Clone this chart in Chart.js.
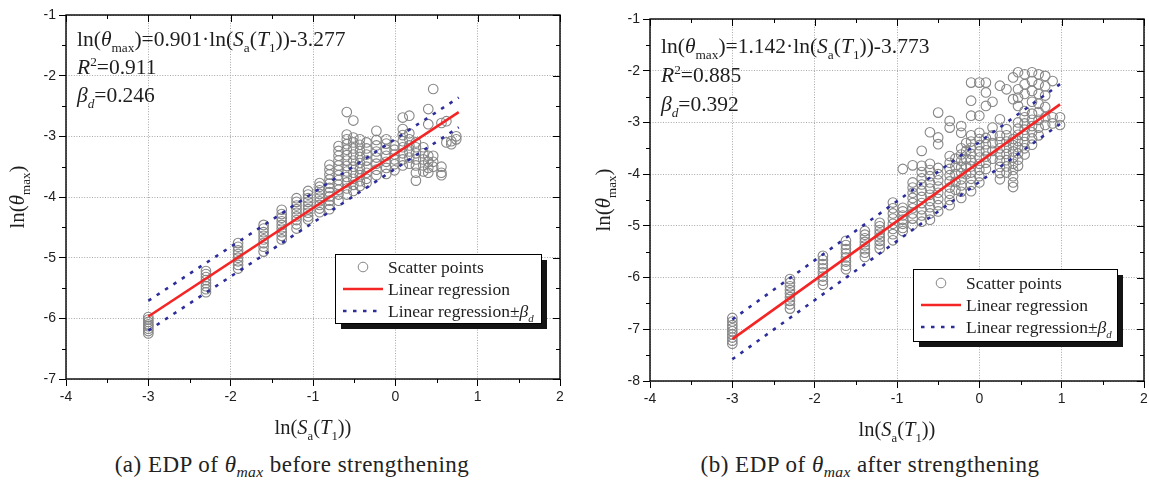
<!DOCTYPE html>
<html>
<head>
<meta charset="utf-8">
<script src="https://cdn.jsdelivr.net/npm/chart.js@4.4.1/dist/chart.umd.min.js"></script>
<style>
  body { margin: 0; background: #fff; width: 1149px; height: 488px; overflow: hidden; position: relative; }
  canvas { position: absolute; top: 0; }
  #chartA { left: 0; }
  #chartB { left: 580px; }
  .cap { position: absolute; top: 453px; font: 23px "Liberation Serif"; letter-spacing: 0.5px; color: #222; white-space: nowrap; transform: translateX(-50%); line-height: 24px; }
  .cap sub { font-size: 0.68em; vertical-align: baseline; position: relative; top: 0.3em; letter-spacing: 0.3px; }
</style>
</head>
<body>
<canvas id="chartA" width="580" height="445"></canvas>
<canvas id="chartB" width="571" height="445"></canvas>
<div class="cap" style="left:292px">(a) EDP of <i>θ<sub>max</sub></i> before strengthening</div>
<div class="cap" style="left:870px">(b) EDP of <i>θ<sub>max</sub></i> after strengthening</div>
<script>
// axis ranges
const xRange = [-4, 2]
const yRangeBefore = [-7, -1]
const yRangeAfter = [-8, -1]

// scatter points, grouped by column (x) -> list of y
const beforeColX = [-3, -2.3, -1.91, -1.6, -1.38, -1.2, -1.06, -0.92, -0.8, -0.69, -0.59, -0.51, -0.43,
  -0.35, -0.23, -0.11, -0.01, 0.09, 0.17, 0.25, 0.34, 0.40, 0.46, 0.56, 0.62, 0.68, 0.74]
const beforeColY = [
  [-5.98, -6.02, -6.06, -6.10, -6.13, -6.17, -6.21, -6.25],
  [-5.22, -5.27, -5.32, -5.37, -5.42, -5.47, -5.52, -5.57],
  [-4.76, -4.82, -4.88, -4.94, -5.00, -5.06, -5.12, -5.18],
  [-4.46, -4.52, -4.58, -4.64, -4.70, -4.76, -4.82, -4.90],
  [-4.21, -4.28, -4.34, -4.40, -4.46, -4.52, -4.58, -4.64, -4.70],
  [-4.02, -4.08, -4.14, -4.20, -4.26, -4.32, -4.38, -4.45, -4.52],
  [-3.90, -3.96, -4.02, -4.08, -4.14, -4.20, -4.26, -4.32, -4.37],
  [-3.77, -3.83, -3.89, -3.95, -4.01, -4.07, -4.13, -4.19, -4.25],
  [-3.47, -3.55, -3.63, -3.71, -3.78, -3.85, -3.92, -3.99, -4.06, -4.13, -4.20],
  [-3.16, -3.24, -3.32, -3.40, -3.48, -3.56, -3.64, -3.72, -3.80, -3.88, -3.96, -4.06],
  [-2.60, -2.97, -3.05, -3.13, -3.22, -3.31, -3.40, -3.49, -3.58, -3.67, -3.76, -3.86, -3.96],
  [-2.74, -3.02, -3.10, -3.20, -3.30, -3.40, -3.50, -3.60, -3.70, -3.80, -3.90],
  [-3.05, -3.14, -3.24, -3.34, -3.44, -3.54, -3.64, -3.74, -3.82],
  [-3.10, -3.20, -3.30, -3.40, -3.50, -3.60, -3.70, -3.77],
  [-2.91, -3.06, -3.15, -3.25, -3.35, -3.45, -3.55, -3.64],
  [-3.05, -3.12, -3.22, -3.32, -3.42, -3.52, -3.62],
  [-3.15, -3.22, -3.30, -3.38, -3.46, -3.56],
  [-2.69, -2.88, -2.98, -3.08, -3.18, -3.28, -3.38, -3.48],
  [-2.66, -2.95, -3.05, -3.15, -3.25, -3.35, -3.45],
  [-3.10, -3.18, -3.28, -3.38, -3.48, -3.60, -3.73],
  [-3.18, -3.28, -3.38, -3.48, -3.58],
  [-2.55, -2.80, -3.32, -3.42, -3.52, -3.60],
  [-2.22, -3.32, -3.42, -3.50],
  [-2.78, -3.50, -3.60, -3.64],
  [-2.75, -3.10],
  [-3.08, -3.13],
  [-3.00, -3.05]
]

const afterColX = [-3, -2.3, -1.9, -1.62, -1.39, -1.21, -1.05, -0.93, -0.81, -0.7, -0.6, -0.5, -0.36,
  -0.29, -0.22, -0.16, -0.1, 0, 0.08, 0.16, 0.25, 0.33, 0.41, 0.47, 0.55, 0.64, 0.72, 0.8, 0.89, 0.98]
const afterColY = [
  [-6.78, -6.85, -6.92, -6.98, -7.04, -7.10, -7.16, -7.22, -7.28],
  [-6.03, -6.10, -6.17, -6.24, -6.31, -6.38, -6.45, -6.52, -6.60],
  [-5.58, -5.66, -5.74, -5.82, -5.90, -5.98, -6.06, -6.14],
  [-5.29, -5.37, -5.45, -5.53, -5.61, -5.69, -5.77, -5.84],
  [-5.10, -5.17, -5.24, -5.31, -5.38, -5.45, -5.52, -5.60],
  [-4.94, -5.01, -5.08, -5.15, -5.22, -5.29, -5.36, -5.44],
  [-4.55, -4.66, -4.76, -4.86, -4.96, -5.06, -5.16, -5.28],
  [-3.90, -4.65, -4.72, -4.80, -4.88, -4.96, -5.04, -5.10],
  [-3.83, -4.16, -4.26, -4.36, -4.46, -4.56, -4.66, -4.76, -4.86, -4.98],
  [-3.55, -3.84, -3.96, -4.08, -4.20, -4.32, -4.44, -4.56, -4.68, -4.80, -4.92],
  [-3.19, -3.80, -3.92, -4.04, -4.16, -4.28, -4.40, -4.52, -4.64, -4.76, -4.88],
  [-2.81, -3.29, -3.42, -3.88, -4.00, -4.12, -4.24, -4.36, -4.48, -4.60, -4.72],
  [-2.97, -3.10, -3.65, -3.78, -3.90, -4.02, -4.14, -4.26, -4.38, -4.50, -4.60],
  [-3.70, -3.85, -4.00, -4.15, -4.30],
  [-3.07, -3.20, -3.50, -3.62, -3.74, -3.86, -3.98, -4.10, -4.22, -4.34, -4.46],
  [-3.40, -3.55, -3.70, -3.85, -4.00],
  [-2.23, -2.58, -2.87, -3.25, -3.37, -3.49, -3.61, -3.73, -3.85, -3.97, -4.09, -4.21, -4.33],
  [-2.23, -2.87, -3.20, -3.32, -3.44, -3.56, -3.68, -3.80, -3.92, -4.04, -4.16],
  [-2.23, -2.42, -2.68, -3.30, -3.42, -3.54, -3.66, -3.78, -3.90],
  [-2.60, -3.10, -3.25, -3.40, -3.55, -3.70],
  [-2.29, -2.94, -3.26, -3.38, -3.50, -3.62, -3.74, -3.86, -3.98, -4.10],
  [-2.36, -3.13, -3.25, -3.37, -3.49, -3.61, -3.73, -3.85, -3.97],
  [-2.13, -2.55, -3.32, -3.44, -3.56, -3.68, -3.80, -3.92, -4.04, -4.16, -4.25],
  [-2.03, -2.36, -2.52, -2.68, -3.00, -3.12, -3.24, -3.36, -3.48, -3.60, -3.72, -3.84],
  [-2.07, -2.26, -2.45, -2.78, -2.90, -3.02, -3.14, -3.26, -3.38, -3.50, -3.62],
  [-2.03, -2.20, -2.39, -2.60, -2.83, -2.95, -3.07, -3.19, -3.31, -3.43],
  [-2.07, -2.26, -2.45, -2.64, -2.80, -2.95, -3.10, -3.25],
  [-2.10, -2.30, -2.48, -2.70, -2.90, -3.05],
  [-2.20, -2.90, -3.02],
  [-2.90, -3.05]
]

// regression lines (end points)
const beforeLineX = [-3, 0.77]
const beforeFit = [-5.97, -2.60]
const beforeUpper = [-5.71, -2.36]
const beforeLower = [-6.20, -2.85]
const afterLineX = [-3, 0.98]
const afterFit = [-7.19, -2.65]
const afterUpper = [-6.81, -2.26]
const afterLower = [-7.58, -3.03]

const SERIF = '"Liberation Serif", "Times New Roman", serif'
const INK = '#1e1e1e'

function colsToPoints(xs, ys) {
  return xs.flatMap((x, i) => ys[i].map(y => ({x, y})))
}
function linePoints(xs, ys) {
  return xs.map((x, i) => ({x, y: ys[i]}))
}

// rich text: parts = [[text, style]], style '' | 'i' | 'sub' | 'isub' | 'sup'
function partFont(st, size) {
  let fs = size, dy = 0
  if (st.includes('sub')) { fs = size * 0.62; dy = size * 0.27 }
  if (st.includes('sup')) { fs = size * 0.62; dy = -size * 0.38 }
  const it = st === 'i' || st === 'isub'
  return {font: `${it ? 'italic ' : ''}${fs}px ${SERIF}`, dy}
}
function richWidth(ctx, parts, size) {
  let w = 0
  for (const [t, st] of parts) {
    ctx.font = partFont(st, size).font
    w += ctx.measureText(t).width
  }
  return w
}
function drawRich(ctx, parts, x, y, size) {
  let cx = x
  ctx.textAlign = 'left'
  ctx.textBaseline = 'alphabetic'
  for (const [t, st] of parts) {
    const f = partFont(st, size)
    ctx.font = f.font
    ctx.fillText(t, cx, y + f.dy)
    cx += ctx.measureText(t).width
  }
}

const xTitle = [['ln(', ''], ['S', 'i'], ['a', 'sub'], ['(', ''], ['T', 'i'], ['1', 'sub'], ['))', '']]
const yTitle = [['ln(', ''], ['θ', 'i'], ['max', 'sub'], [')', '']]

function makeDecor(p) {
  return {
    id: 'decor',
    afterDraw(chart) {
      const ctx = chart.ctx
      const a = chart.chartArea
      const xs = chart.scales.x, ys = chart.scales.y
      ctx.save()

      // minor ticks + inner ticks on top/right
      ctx.strokeStyle = '#000'
      ctx.lineWidth = 1
      ctx.beginPath()
      for (let k = 0; k <= (xs.max - xs.min) * 2; k++) {
        const v = xs.min + k / 2
        const px = Math.round(xs.getPixelForValue(v)) + 0.5
        const major = k % 2 === 0
        const len = major ? 7 : 4
        if (!major) { ctx.moveTo(px, a.bottom); ctx.lineTo(px, a.bottom + len) }
        ctx.moveTo(px, a.top); ctx.lineTo(px, a.top + len)
      }
      for (let k = 0; k <= (ys.max - ys.min) * 2; k++) {
        const v = ys.min + k / 2
        const py = Math.round(ys.getPixelForValue(v)) + 0.5
        const major = k % 2 === 0
        const len = major ? 7 : 4
        if (!major) { ctx.moveTo(a.left, py); ctx.lineTo(a.left - len, py) }
        ctx.moveTo(a.right, py); ctx.lineTo(a.right - len, py)
      }
      ctx.stroke()

      // frame
      ctx.lineWidth = 1.4
      ctx.strokeRect(a.left, a.top, a.right - a.left, a.bottom - a.top)

      ctx.fillStyle = INK
      // annotations
      p.notes.forEach((parts, i) => {
        drawRich(ctx, parts, a.left + p.noteX, a.top + p.noteY[i], 21.5)
      })

      // axis titles
      const tw = richWidth(ctx, xTitle, 20.5)
      drawRich(ctx, xTitle, (a.left + a.right) / 2 - tw / 2, a.bottom + p.xTitleDy, 20.5)
      const th = richWidth(ctx, yTitle, 21)
      ctx.save()
      ctx.translate(p.yTitleX, (a.top + a.bottom) / 2)
      ctx.rotate(-Math.PI / 2)
      drawRich(ctx, yTitle, -th / 2, 0, 21)
      ctx.restore()

      // legend box with shadow
      const lg = p.legend
      const L = a.left + lg.x, T = a.top + lg.y
      ctx.fillStyle = '#141414'
      ctx.fillRect(L + 6, T + 6, lg.w, lg.h)
      ctx.fillStyle = '#fff'
      ctx.fillRect(L, T, lg.w, lg.h)
      ctx.strokeStyle = '#000'
      ctx.lineWidth = 1
      ctx.strokeRect(L + 0.5, T + 0.5, lg.w, lg.h)

      const rows = lg.rows.map(r => T + r)
      ctx.beginPath()
      ctx.arc(L + 28, rows[0], 4.8, 0, Math.PI * 2)
      ctx.strokeStyle = '#868686'
      ctx.stroke()
      ctx.beginPath()
      ctx.moveTo(L + 8, rows[1]); ctx.lineTo(L + 48, rows[1])
      ctx.strokeStyle = '#f42525'
      ctx.lineWidth = 2.6
      ctx.stroke()
      ctx.beginPath()
      ctx.setLineDash([3.5, 6.5])
      ctx.moveTo(L + 8, rows[2]); ctx.lineTo(L + 48, rows[2])
      ctx.strokeStyle = '#2d2d9b'
      ctx.stroke()
      ctx.setLineDash([])

      ctx.fillStyle = INK
      const labels = [
        [['Scatter points', '']],
        [['Linear regression', '']],
        [['Linear regression±', ''], ['β', 'i'], ['d', 'isub']]
      ]
      labels.forEach((parts, i) => drawRich(ctx, parts, L + 53, rows[i] + 6, 17.5))
      ctx.restore()
    }
  }
}

function createPanel(id, p) {
  const datasets = [
    {
      label: 'Scatter points',
      data: colsToPoints(p.colX, p.colY),
      pointRadius: 4.8,
      pointBackgroundColor: 'rgba(255,255,255,0)',
      pointBorderColor: '#868686',
      pointBorderWidth: 1.1,
      order: 3
    },
    {label: 'upper', data: linePoints(p.lineX, p.upper), showLine: true, borderColor: '#2d2d9b',
      borderWidth: 2.6, borderDash: [3.5, 6.5], pointRadius: 0, order: 2},
    {label: 'lower', data: linePoints(p.lineX, p.lower), showLine: true, borderColor: '#2d2d9b',
      borderWidth: 2.6, borderDash: [3.5, 6.5], pointRadius: 0, order: 2},
    {label: 'Linear regression', data: linePoints(p.lineX, p.fit), showLine: true, borderColor: '#f42525',
      borderWidth: 2.6, pointRadius: 0, order: 1}
  ]
  const tickFont = {family: '"Liberation Sans", Arial, sans-serif', size: 14}
  const config = {
    type: 'scatter',
    data: {datasets},
    options: {
      responsive: false,
      animation: false,
      devicePixelRatio: 1,
      layout: {padding: {top: p.padTop, right: p.padRight, left: 0, bottom: 0}},
      plugins: {legend: {display: false}, tooltip: {enabled: false}},
      scales: {
        x: {
          type: 'linear', min: xRange[0], max: xRange[1],
          ticks: {stepSize: 1, color: INK, font: tickFont, padding: 3},
          grid: {color: '#a8a8a8', lineWidth: 1, tickColor: '#000', tickLength: 7},
          border: {display: false, dash: [1, 1.6]},
          afterFit: s => { s.height = p.xAxisH }
        },
        y: {
          type: 'linear', min: p.yRange[0], max: p.yRange[1],
          ticks: {stepSize: 1, color: INK, font: tickFont, padding: 3},
          grid: {color: '#a8a8a8', lineWidth: 1, tickColor: '#000', tickLength: 7},
          border: {display: false, dash: [1, 1.6]},
          afterFit: s => { s.width = p.yAxisW }
        }
      }
    },
    plugins: [makeDecor(p)]
  }
  return new Chart(document.getElementById(id), config)
}

createPanel('chartA', {
  colX: beforeColX, colY: beforeColY,
  lineX: beforeLineX, fit: beforeFit, upper: beforeUpper, lower: beforeLower,
  yRange: yRangeBefore,
  padTop: 15, padRight: 20, yAxisW: 66, xAxisH: 66,
  notes: [
    [['ln(', ''], ['θ', 'i'], ['max', 'sub'], [')=0.901·ln(', ''], ['S', 'i'], ['a', 'sub'], ['(', ''], ['T', 'i'], ['1', 'sub'], ['))-3.277', '']],
    [['R', 'i'], ['2', 'sup'], ['=0.911', '']],
    [['β', 'i'], ['d', 'isub'], ['=0.246', '']]
  ],
  noteX: 11, noteY: [31, 59, 87],
  xTitleDy: 55, yTitleX: 24,
  legend: {x: 269, y: 239, w: 206, h: 69, rows: [13, 35, 57]}
})

createPanel('chartB', {
  colX: afterColX, colY: afterColY,
  lineX: afterLineX, fit: afterFit, upper: afterUpper, lower: afterLower,
  yRange: yRangeAfter,
  padTop: 19, padRight: 7, yAxisW: 70, xAxisH: 64,
  notes: [
    [['ln(', ''], ['θ', 'i'], ['max', 'sub'], [')=1.142·ln(', ''], ['S', 'i'], ['a', 'sub'], ['(', ''], ['T', 'i'], ['1', 'sub'], ['))-3.773', '']],
    [['R', 'i'], ['2', 'sup'], ['=0.885', '']],
    [['β', 'i'], ['d', 'isub'], ['=0.392', '']]
  ],
  noteX: 11, noteY: [34, 63, 92],
  xTitleDy: 55, yTitleX: 30,
  legend: {x: 263, y: 250, w: 204, h: 72, rows: [14, 36, 58]}
})
</script>
</body>
</html>
